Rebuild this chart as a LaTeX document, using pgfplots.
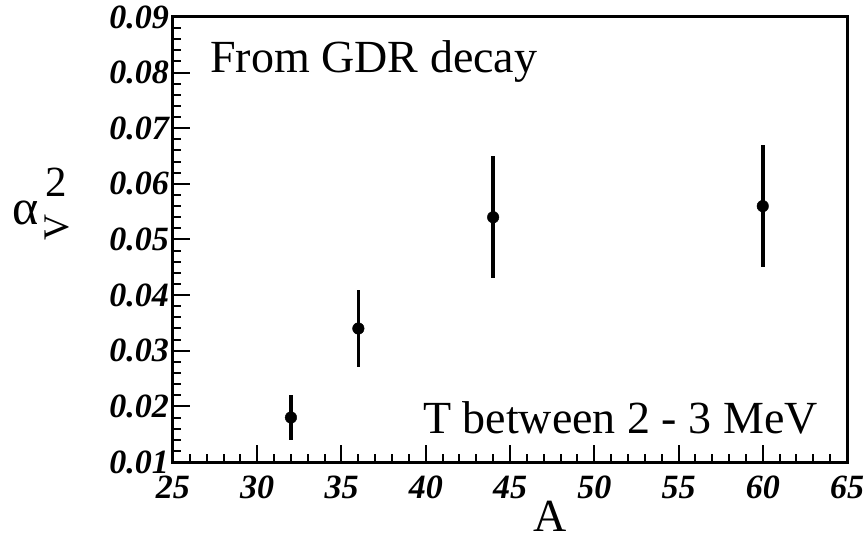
\documentclass[border=0pt]{standalone}
\usepackage{fontspec}
\setmainfont{Liberation Serif}
\usepackage{pgfplots}
\pgfplotsset{compat=1.18}
\begin{document}
\begin{tikzpicture}
\path[use as bounding box] (-173bp,-79bp) rectangle (693bp,462bp);
\begin{axis}[
  at={(0,0)}, anchor=south west,
  scale only axis, width=674bp, height=445bp,
  xmin=25, xmax=65, ymin=0.01, ymax=0.09,
  scaled y ticks=false, scaled x ticks=false,
  xtick={25,30,35,40,45,50,55,60,65},
  xticklabels={25,30,35,40,45,50,55,60,65},
  ytick={0.01,0.02,0.03,0.04,0.05,0.06,0.07,0.08,0.09},
  yticklabels={0.01,0.02,0.03,0.04,0.05,0.06,0.07,0.08,0.09},
  minor x tick num=4, minor y tick num=4,
  tick align=inside, xtick pos=bottom, ytick pos=left,
  major tick length=17bp, minor tick length=8bp,
  tick style={line width=2bp, black},
  axis line style={line width=3bp},
  /pgf/number format/assume math mode=true,
  ticklabel style={font=\fontsize{34bp}{34bp}\selectfont\bfseries\itshape},
  yticklabel style={inner sep=0pt, anchor=east, xshift=-4bp},
  xticklabel style={inner sep=0pt, anchor=north, yshift=-14bp},
  clip=false,
]
\addplot[only marks, mark=*, mark size=5.8bp, black,
  error bars/.cd, y dir=both, y explicit,
  error bar style={line width=3.6bp}, error mark=none]
  coordinates {
    (32,0.018) +- (0,0.004)
    (36,0.034) +- (0,0.007)
    (44,0.054) +- (0,0.011)
    (60,0.056) +- (0,0.011)
  };
\node[anchor=base west, inner sep=0, font=\fontsize{46bp}{46bp}\selectfont] at (axis cs:27.2,0.0801) {From GDR decay};
\node[anchor=base east, inner sep=0, font=\fontsize{46bp}{46bp}\selectfont] at (axis cs:63.28,0.0152) {T between 2 - 3 MeV};
\node[anchor=base, inner sep=0, font=\fontsize{46bp}{46bp}\selectfont] at (rel axis cs:0.559,-0.1565) {A};
\node[anchor=base west, inner sep=0, font=\fontsize{50bp}{50bp}\selectfont] at (rel axis cs:-0.2389,0.5326) {α};
\node[anchor=base west, inner sep=0, font=\fontsize{43bp}{43bp}\selectfont] at (rel axis cs:-0.1899,0.5955) {2};
\node[rotate=90, inner sep=0, font=\fontsize{36bp}{36bp}\selectfont] at (rel axis cs:-0.1714,0.528) {V};
\end{axis}
\end{tikzpicture}
\end{document}
